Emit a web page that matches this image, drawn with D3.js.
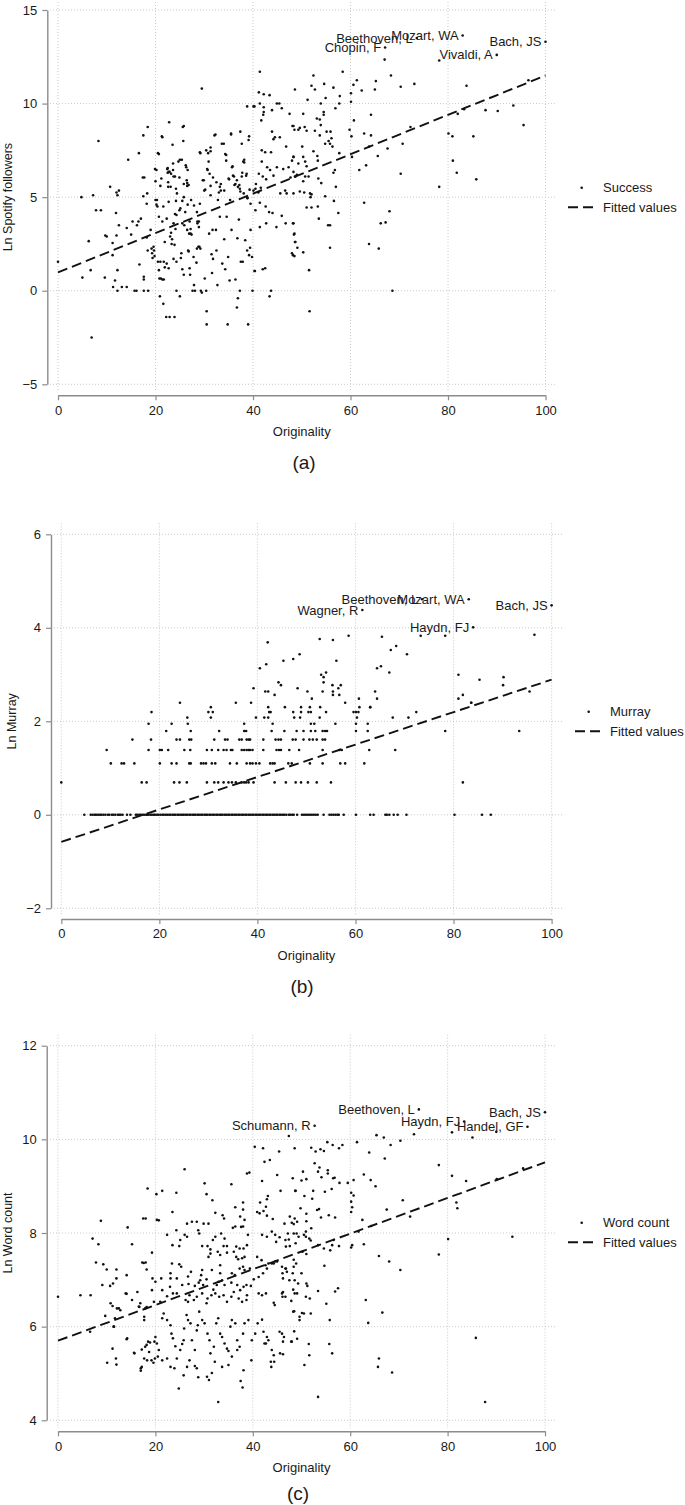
<!DOCTYPE html>
<html><head><meta charset="utf-8">
<script src="https://cdn.jsdelivr.net/npm/d3@7"></script>
<style>html,body{margin:0;padding:0;background:#fff;}svg{display:block;}</style>
</head><body>
<svg id="chart" width="685" height="1505"></svg>
<script>
// ---------------- DATA ----------------
const xTicks = [0, 20, 40, 60, 80, 100];
const successYTicks = [-5, 0, 5, 10, 15];
const murrayYTicks = [-2, 0, 2, 4, 6];
const wordYTicks = [4, 6, 8, 10, 12];

// (a) Ln Spotify followers vs originality
const successPts = [
[0,1.55],[4.8,5.0],[5.0,0.7],[6.9,-2.5],[6.3,2.65],[6.7,1.1],[7.2,5.1],[7.8,4.3],[8.3,8.0],[8.8,4.3],[9.7,2.95],[10.0,2.9],[9.6,0.7],[10.7,5.55],[11.2,2.55],[11.2,1.9],[11.3,0.2],[11.7,0.55],[11.9,4.15],[12.0,5.25],[12.2,5.1],[12.0,2.95],[12.2,1.1],[12.5,5.35],[12.5,3.5],[12.2,0],[13.1,0.2],[14.1,0.2],[14.1,3.35],[14.4,7.0],[15.0,3.0],[15.3,3.7],[15.7,0],[16.1,0],[16.2,3.5],[16.5,3.7],[16.6,7.35],[16.7,1.4],[17.0,3.85],[17.5,8.3],[17.4,6.05],[17.7,6.05],[17.6,0.75],[17.6,0.6],[17.6,0],[18.2,4.65],[18.3,5.2],[18.4,8.75],[18.2,2.85],[18.4,2.15],[18.5,0],[19.0,3.25],[19.2,2.25],[19.4,1.75],[19.6,2.35],[19.8,1.85],[19.9,6.5],[20.0,5.85],[20.0,4.85],[20.2,4.6],[20.4,4.5],[20.5,7.35],[20.5,1.55],[20.7,1.1],[20.8,0.65],[20.9,-0.3],[21.3,8.25],[21.4,0.6],[21.6,-0.7],[21.7,1.55],[21.9,1.25],[21.9,2.6],[22.2,-1.4],[22.3,3.85],[22.5,6.55],[22.5,6.3],[22.6,5.55],[22.8,9.0],[22.9,6.35],[22.9,-1.4],[23.2,3.1],[23.4,2.75],[23.5,7.8],[23.6,6.8],[23.7,1.7],[23.9,-1.4],[24.0,6.1],[24.1,3.3],[24.2,4.8],[24.3,0],[24.7,6.9],[24.9,4.3],[25.0,-0.3],[25.4,7.0],[25.2,1.75],[25.5,4.8],[25.6,8.75],[25.7,8.0],[25.8,5.7],[25.9,3.5],[26.2,6.7],[26.4,5.9],[26.5,5.6],[26.7,2.15],[26.9,3.05],[27.1,0.85],[27.2,3.3],[27.4,3.0],[27.6,0],[27.9,0.3],[28.1,0],[28.4,1.5],[28.5,2.25],[28.6,3.7],[28.9,3.7],[29.0,2.35],[29.1,4.65],[29.1,7.4],[29.5,10.8],[29.3,0],[29.5,-0.1],[29.7,5.9],[30.0,5.35],[30.1,0.65],[30.4,0],[30.5,-1.1],[30.5,-1.8],[30.6,6.5],[30.8,7.35],[31.0,3.05],[31.3,7.45],[31.3,5.1],[31.5,1.95],[31.6,0.95],[31.7,3.25],[31.8,1.7],[32.1,8.3],[32.4,3.25],[32.5,2.15],[32.7,0.3],[32.8,4.85],[33.0,5.25],[33.2,3.95],[33.4,5.7],[33.6,7.85],[33.7,1.45],[34.1,2.75],[34.1,5.35],[34.3,7.3],[34.3,1.15],[34.6,3.95],[34.8,-1.8],[34.9,1.8],[35.1,5.95],[35.2,0.55],[35.3,4.85],[35.5,8.4],[35.6,3.25],[35.8,6.65],[36.1,6.1],[36.2,5.65],[36.4,0.6],[36.7,-0.9],[36.8,2.8],[36.9,-0.4],[37.1,3.8],[37.2,5.65],[37.3,0],[37.5,1.55],[37.7,7.85],[37.8,6.3],[37.9,1.55],[38.2,6.85],[38.4,2.7],[38.7,6.25],[38.9,4.95],[39.0,-1.8],[39.2,8.25],[39.4,2.3],[39.9,0],[40.1,9.85],[40.3,1.05],[40.5,5.45],
[29.2,7.35],[30.4,7.5],[30.9,6.9],[31.3,7.65],[32.3,8.35],[30.7,6.45],[31.1,6.25],[31.8,6.05],[29.9,5.9],[30.2,5.4],[31.3,5.6],[32.5,5.8],[33.2,5.55],[33.4,5.35],[34.0,7.85],[34.5,7.25],[34.5,6.95],[35.0,6.0],[35.5,8.35],[35.7,6.6],[35.9,6.15],[36.4,5.7],[36.7,5.9],[36.9,5.55],[37.3,5.45],[37.4,8.5],[38.0,6.9],[38.2,7.0],[38.6,6.15],[38.8,9.85],[37.7,6.1],[37.4,5.3],[38.1,5.2],[39.1,8.05],[39.3,5.4],[38.8,4.95],[40.3,9.85],[41.2,10.6],[41.4,11.7],[42.2,10.5],[43.4,10.45],[41.4,10.0],[42.2,9.8],[42.2,9.55],[41.7,9.1],[42.1,9.4],[43.9,9.65],[44.9,10.0],[45.4,10.0],[45.9,9.75],[43.9,8.5],[44.2,8.1],[44.5,8.2],[45.5,8.2],[47.5,9.45],[48.1,8.8],[48.5,8.6],[41.8,7.5],[42.5,7.4],[43.7,7.4],[42.9,6.6],[43.5,6.45],[44.2,6.15],[44.9,6.6],[46.2,6.5],[46.8,7.7],[47.3,6.6],[48.0,6.95],[48.3,7.15],[49.3,8.6],[41.8,6.9],[41.2,6.25],[42.0,6.1],[42.7,5.95],[40.1,5.35],[40.6,5.7],[41.6,5.5],[41.1,5.25],[45.6,5.2],[46.6,5.35],[46.9,5.2],[48.7,6.1],[49.0,6.2],[47.7,6.05],[39.5,4.65],[40.5,4.3],[41.4,4.7],[42.6,4.5],[43.3,4.2],[44.0,4.15],[45.9,4.0],[48.3,5.2],[39.5,3.25],[41.4,3.4],[42.7,3.6],[44.8,3.4],[46.7,3.6],[48.2,3.6],[48.5,3.05],[48.7,2.6],[48.0,2.0],[48.5,1.85],[42.0,1.15],[42.5,1.2],[40.4,1.05],[43.7,0],[43.4,-0.3],[38.8,2.15],[39.2,1.9],[39.8,1.8],
[20.7,7.3],[21.4,8.2],[20.2,6.45],[21.2,6.0],[22.4,6.5],[22.7,6.35],[23.2,6.25],[23.6,6.45],[23.7,6.1],[24.9,6.05],[25.0,7.0],[25.8,8.8],[26.3,6.6],[26.6,6.45],[26.5,5.75],[26.8,5.65],[21.0,5.6],[22.6,5.8],[23.1,5.55],[24.2,5.45],[24.4,5.2],[25.8,5.0],[20.3,4.85],[21.6,4.5],[22.7,4.75],[24.0,4.1],[24.3,4.05],[25.1,4.4],[26.1,4.2],[26.6,4.6],[27.3,4.85],[27.9,4.55],[28.5,4.2],[20.7,3.95],[21.4,3.7],[23.7,3.6],[25.5,3.6],[27.0,3.7],[28.6,3.6],[28.9,3.4],[26.5,3.25],[27.2,3.05],[23.0,2.9],[23.3,2.5],[23.9,2.45],[25.3,2.0],[26.8,2.1],[27.8,1.8],[28.8,2.35],[29.2,2.25],[21.0,1.55],[22.3,1.45],[22.7,1.2],[24.3,1.55],[25.5,1.15],[25.8,0.85],[27.0,1.2],[21.1,0.65],[21.7,0.6],[19.3,2.0],[19.7,2.15],[17.5,5.05],
[48.6,10.75],[52.4,11.5],[52.7,10.75],[52.0,10.95],[51.2,10.2],[54.6,11.05],[54.9,10.3],[56.5,10.85],[57.8,10.4],[57.7,10.0],[58.4,11.7],[56.9,9.75],[53.9,10.0],[50.3,9.45],[54.5,9.55],[54.5,9.4],[53.1,9.2],[53.7,9.15],[53.9,8.85],[48.3,8.8],[49.6,8.7],[50.6,8.75],[51.0,8.55],[52.7,8.55],[53.7,8.3],[54.8,7.85],[55.1,8.5],[55.5,8.0],[55.9,8.5],[56.1,8.15],[55.8,7.85],[56.3,7.7],[50.1,7.7],[52.4,7.45],[48.3,7.15],[49.3,6.8],[50.3,7.15],[50.7,6.9],[51.0,6.65],[53.2,7.2],[53.3,6.95],[57.7,7.35],[48.3,6.35],[48.6,6.1],[50.7,6.1],[51.4,6.1],[50.3,5.85],[49.6,5.3],[50.5,5.25],[51.7,5.2],[52.0,5.15],[51.8,5.0],[53.4,6.0],[54.0,5.75],[54.8,5.05],[56.5,6.3],[56.8,6.45],[57.0,5.55],[56.6,4.8],[57.5,4.15],[51.0,4.45],[52.0,4.45],[53.3,4.5],[53.5,3.85],[48.3,3.6],[55.4,3.5],[55.8,3.5],[48.4,3.0],[48.6,2.6],[49.1,2.3],[48.2,1.9],[50.3,2.05],[55.8,2.3],[51.5,1.1],[51.6,-1.1],[59.8,8.6],[60.2,8.25],[60.1,10.1],[60.1,10.55],[60.6,11.0],[61.3,11.25],[60.7,9.1],[60.3,7.15],[62.3,10.7],[62.8,8.4],[64.2,9.4],[64.2,8.3],[63.8,7.7],[63.2,6.7],[61.8,6.45],[65.2,11.2],[65.0,10.75],[65.6,7.2],[67.0,12.35],[68.3,11.5],[67.6,7.6],[62.8,4.7],[63.8,2.5],[65.8,2.25],[66.2,3.6],[67.2,3.65],[68.0,4.25],[68.6,0],[70.3,10.9],[70.7,7.85],[70.3,6.25],[72.3,8.75],[73.1,11.05],[78.2,12.3],[78.2,5.55],[80.1,8.4],[80.9,8.25],[81.0,6.95],[81.8,6.3],[82.0,9.45],[83.3,9.7],[83.8,10.95],[85.2,8.25],[85.8,5.95],[87.7,9.65],[90.2,9.6],[93.4,9.9],[95.5,8.85],[96.5,11.25]
];
const successLabelNames = ["Beethoven, L", "Mozart, WA", "Chopin, F", "Vivaldi, A", "Bach, JS"];
const successLabelX = [73.6, 83.0, 67.1, 90.0, 100];
const successLabelY = [13.5, 13.64, 13.0, 12.6, 13.3];
const successFit = [[0, 0.98], [100, 11.5]];

// (b) Ln Murray vs originality: points on discrete levels ln(count)
const murrayRows = [
 [0, [4.7,6.0,6.4,6.8,7.1,7.5,7.9,8.2,8.6,9.0,9.5,9.8,10.3,10.6,11.0,11.5,11.8,12.1,12.5,13.4,14.1,15.2,15.5,15.9,16.2,16.6,16.9,17.3,17.5,17.8,18.2,18.5,18.9,19.1,19.5,19.8,20.2,20.6,20.9,21.3,21.6,22.0,22.3,22.7,23.0,23.3,23.7,24.0,24.4,24.7,25.0,25.4,25.7,26.1,26.4,26.8,27.1,27.4,27.8,28.1,28.5,28.8,29.2,29.5,29.8,30.2,30.5,30.9,31.2,31.6,31.9,32.3,32.6,32.9,33.3,33.6,34.0,34.3,34.7,35.0,35.4,35.7,36.1,36.4,36.8,37.1,37.5,37.8,38.2,38.5,38.9,39.2,39.6,39.9,40.3,40.6,41.0,41.3,41.7,42.0,42.4,42.7,43.1,43.4,43.8,44.1,44.5,44.8,45.2,45.5,45.9,46.4,46.7,47.1,47.4,48.1,49.1,49.5,49.9,50.3,50.7,51.1,51.5,51.9,52.3,53.5,54.7,55.1,55.5,55.9,56.3,56.6,57.6,60.1,63.0,63.7,66.1,66.4,66.9,67.8,68.6,70.4,80.2,85.8,87.6]],
 [0.693, [0,16.4,17.4,23.0,24.1,25.6,29.7,31.2,32.0,33.1,34.1,34.8,35.6,36.8,37.3,37.7,38.2,39.2,43.5,45.8,47.8,48.9,50.3,52.1,55.0,81.9]],
 [1.099, [10.1,12.3,12.8,14.9,20.1,22.5,23.5,26.1,26.4,28.5,29.0,29.5,30.7,31.4,34.4,35.8,37.8,38.5,39.0,39.7,40.4,42.6,43.1,43.5,46.3,47.0,50.7,53.3,56.9,57.9,61.8]],
 [1.386, [9.25,17.8,20.1,20.5,21.8,25.1,26.3,29.7,30.7,32.0,33.1,33.7,34.6,34.9,36.8,37.3,37.8,38.2,38.5,39.0,41.2,43.9,44.4,44.8,46.5,48.5,53.3,56.7,57.2,62.8,68.1]],
 [1.609, [14.5,18.3,23.5,24.2,26.1,26.5,31.2,33.4,33.9,36.3,36.8,37.8,38.2,38.5,41.2,43.7,44.3,44.8,47.2,47.8,49.4,50.6,51.3,52.1,53.3,53.8]],
 [1.792, [21.4,26.4,32.2,37.3,37.7,42.9,45.5,48.0,49.4,50.9,51.8,53.3,53.8,54.2,60.1,62.5,78.3,93.4]],
 [1.946, [17.8,22.5,25.8,37.3,43.1,50.9,51.6,55.9,60.1,62.5]],
 [2.079, [25.7,30.5,39.7,41.4,42.2,47.5,48.7,52.7,60.3,67.6,70.8]],
 [2.197, [18.4,30.0,30.9,42.4,42.7,47.3,48.9,50.4,50.9,54.0,59.6,60.1,60.6,72.4]],
 [2.303, [30.5,42.2,45.6,48.9,50.7,52.8,60.8,63.0]],
 [2.398, [24.2,35.6,38.7,57.9,83.6]]
];
const murrayUpper = [
[39.2,2.708],[40.5,3.135],[41.8,3.219],[42.1,3.689],[41.6,2.639],[42.2,2.639],[43.5,2.565],[44.3,2.833],[44.8,2.773],[45.3,3.296],[47.3,3.332],[48.6,3.434],[48.2,2.708],[50.2,2.639],[51.1,2.485],[52.7,3.761],[53.0,2.996],[53.3,2.639],[53.5,2.944],[54.0,3.045],[53.5,2.833],[55.4,3.738],[55.4,2.639],[55.4,2.565],[56.1,3.296],[56.5,2.708],[57.0,2.773],[56.7,2.565],[55.3,2.773],[58.6,3.829],[60.7,2.485],[63.0,2.303],[64.0,2.639],[64.4,2.485],[64.4,3.135],[65.2,3.178],[65.4,3.807],[66.9,3.045],[67.2,3.526],[68.3,3.611],[70.5,3.434],[73.3,3.829],[78.3,3.829],[81.0,2.996],[81.9,2.565],[81.0,2.485],[83.6,2.398],[85.3,2.89],[90.2,2.944],[90.1,2.773],[95.5,2.639],[96.5,3.85]
];
const murrayLabelNames = ["Wagner, R", "Beethoven, L", "Mozart, WA", "Haydn, FJ", "Bach, JS"];
const murrayLabelX = [61.4, 73.6, 83.1, 84.0, 100];
const murrayLabelY = [4.38, 4.61, 4.61, 4.01, 4.48];
const murrayFit = [[0, -0.58], [100, 2.89]];

// (c) Ln Word count vs originality
const wordPts = [
[0,6.64],[4.6,6.67],[6.7,6.67],[6.6,5.89],[7.1,7.88],[7.8,7.37],[8.3,7.76],[8.8,8.26],[9.3,7.33],[9.7,6.23],[10.0,7.22],[10.1,5.23],[10.7,6.87],[10.8,6.5],[11.2,6.44],[11.2,5.53],[11.4,6.0],[11.7,6.18],[12.0,7.22],[12.0,7.03],[11.9,5.32],[12.0,5.19],[12.5,6.39],[14.1,7.1],[14.1,5.73],[14.3,8.12],[13.9,6.71],[15.2,7.76],[15.6,5.44],[16.3,6.74],[16.7,6.42],[17.0,5.11],[17.0,5.06],[17.3,7.37],[17.5,8.31],[17.7,5.32],[18.0,8.31],[18.0,7.37],[17.7,6.21],[17.7,6.14],[18.2,5.61],[18.4,8.95],[18.5,5.68],[18.3,5.28],[18.7,5.46],[18.2,7.22],[18.2,6.42],[19.2,5.28],[19.3,7.58],[19.4,7.03],[19.6,5.23],[19.9,5.32],[19.8,5.68],[32.9,4.39],[37.5,4.84],[37.9,4.7],
[26.0,9.36],[20.2,8.83],[21.4,8.9],[24.3,8.86],[30.1,9.06],[30.5,8.83],[31.7,8.7],[35.6,9.04],[38.8,9.27],[39.3,9.29],[40.4,9.84],[42.1,9.81],[42.4,9.52],[43.5,9.56],[45.4,9.74],[48.6,9.81],[47.4,10.07],[45.0,9.24],[41.9,9.11],[48.2,9.17],[45.7,8.9],[48.7,8.9],[43.1,8.79],[42.9,8.72],[41.5,8.65],[42.7,8.56],[38.0,8.65],[38.0,8.5],[36.4,8.55],[37.4,8.35],[38.3,8.28],[33.8,8.38],[34.1,8.31],[32.3,8.43],[23.5,8.45],[20.3,8.28],[20.7,8.27],[26.5,8.2],[27.5,8.24],[28.5,8.24],[29.9,8.2],[30.9,8.2],[35.9,8.11],[36.4,8.14],[37.6,8.13],[38.0,8.14],[40.9,8.45],[41.4,8.42],[42.2,8.47],[42.9,8.37],[44.1,8.3],[46.5,8.2],[47.6,8.35],[48.6,8.31],[49.1,8.24],[24.3,8.06],[26.0,7.96],[26.5,7.92],[28.8,8.06],[29.0,7.99],[32.3,7.92],[33.5,7.99],[34.2,7.88],[39.0,7.96],[41.9,7.96],[42.9,7.92],[43.9,8.03],[44.6,7.96],[45.5,7.91],[46.7,7.85],[47.4,7.86],[48.4,7.99],[22.4,7.96],[23.5,7.74],[25.1,7.85],[24.9,7.72],[29.6,7.72],[30.7,7.72],[31.8,7.85],[34.0,7.72],[34.7,7.72],[36.1,7.6],[36.6,7.71],[37.3,7.67],[38.1,7.67],[38.8,7.74],[44.8,7.81],[47.6,7.72],[31.3,7.65],[31.3,7.56],[30.9,7.49],[32.8,7.6],[33.3,7.53],[34.7,7.58],[36.6,7.49],[37.0,7.44],[37.8,7.46],[38.3,7.49],[40.9,7.49],[41.8,7.42],[42.6,7.31],[43.2,7.35],[43.9,7.35],[44.6,7.39],[46.7,7.24],[47.0,7.17],[48.2,7.14],[48.9,7.35],[17.6,7.36],[23.4,7.35],[25.3,7.28],[24.9,7.33],[23.1,7.14],[26.7,7.07],[27.3,7.17],[29.4,7.1],[29.6,7.21],[31.6,7.21],[33.3,7.31],[33.3,7.14],[35.7,7.14],[36.3,7.1],[37.3,7.24],[38.0,7.28],[38.3,7.21],[39.4,7.24],[20.0,6.96],[21.2,7.03],[23.1,7.03],[24.4,7.03],[11.3,6.92],[9.1,6.89],[14.1,6.7],[19.3,6.78],[21.4,6.78],[23.0,6.85],[25.5,6.89],[26.8,6.91],[28.1,6.87],[28.9,6.94],[29.2,6.99],[29.8,6.89],[30.5,7.01],[31.9,6.79],[32.6,6.89],[33.0,6.96],[33.7,6.99],[34.2,6.89],[35.6,6.94],[36.8,6.89],[37.4,6.78],[38.1,6.85],[38.7,6.89],[39.6,6.87],[40.2,7.01],[41.2,7.06],[42.1,7.14],[42.9,7.24],[44.3,7.35],[45.0,7.39],[46.0,7.28],[41.2,6.71],[41.9,6.67],[42.7,6.71],[44.3,6.51],[44.5,6.46],[46.0,6.71],[46.7,6.64],[48.6,6.71],[49.1,6.71],[48.3,6.32],[38.8,6.67],[38.7,6.57],[37.8,6.53],[37.1,6.6],[36.1,6.74],[35.6,6.64],[34.7,6.53],[34.0,6.67],[33.1,6.64],[32.3,6.71],[31.5,6.67],[30.7,6.6],[30.5,6.5],[29.6,6.71],[28.5,6.64],[27.9,6.57],[27.0,6.67],[26.7,6.53],[26.2,6.57],[24.4,6.71],[23.6,6.71],[22.4,6.65],[21.0,6.53],[19.7,6.53],[16.9,6.5],[17.9,6.39],[16.6,6.43],[12.1,6.39],[12.8,6.35],[15.2,6.57],[11.5,6.0],[14.2,5.75],[15.7,5.43],[17.2,5.51],[17.9,5.57],[18.9,5.66],[20.0,5.78],[20.3,5.64],[20.7,5.5],[21.4,6.18],[21.7,6.28],[22.4,6.14],[23.1,6.03],[23.3,5.85],[23.6,5.75],[24.1,5.58],[24.4,5.32],[25.1,5.5],[25.5,5.63],[25.8,5.71],[25.9,5.96],[26.4,6.25],[26.7,6.14],[27.2,6.07],[27.5,5.71],[28.1,5.5],[28.5,5.92],[28.7,6.03],[29.0,6.32],[29.6,6.14],[30.1,6.07],[30.7,5.85],[31.1,5.71],[31.3,5.43],[32.0,5.57],[32.5,6.07],[32.9,6.18],[33.3,5.85],[33.7,5.78],[34.2,5.64],[34.7,5.53],[35.0,5.48],[35.4,6.0],[35.7,6.14],[36.4,6.07],[36.8,5.71],[37.3,5.57],[38.0,5.85],[38.3,6.07],[39.1,6.14],[39.8,5.71],[40.5,5.85],[41.0,6.07],[41.9,6.15],[42.2,5.89],[42.9,5.78],[43.2,5.71],[43.9,5.5],[44.3,5.39],[43.7,5.25],[46.0,5.85],[46.2,5.68],[48.0,5.68],[45.6,5.43],[42.7,5.64],[36.8,5.5],[35.7,5.36],[35.0,5.18],[33.7,5.14],[32.2,5.25],[30.6,4.93],[31.0,4.86],[31.6,5.01],[28.8,4.92],[28.1,5.16],[27.0,5.28],[26.5,5.14],[25.8,4.96],[24.8,4.68],[23.9,5.11],[23.1,5.14],[22.4,5.32],[21.4,5.28],[20.5,5.36],[17.2,5.14],[38.1,5.07],[28.5,5.11],[39.7,5.28],[43.8,5.14],[42.4,5.64],[44.4,5.25],[49.1,5.74],[49.6,6.14],[49.4,7.92],
[52.0,9.82],[52.9,9.74],[53.9,9.79],[54.6,9.75],[55.3,9.94],[56.4,9.88],[57.7,9.81],[58.4,9.88],[61.4,9.94],[63.9,9.72],[65.4,10.09],[66.9,10.04],[68.3,9.88],[70.3,9.97],[67.1,9.59],[52.7,9.49],[53.7,9.4],[53.4,9.31],[55.4,9.34],[55.4,9.27],[50.3,9.31],[50.0,9.12],[51.0,9.15],[54.1,9.19],[56.5,9.17],[56.8,9.18],[57.8,9.07],[59.5,9.07],[60.7,9.13],[62.8,9.25],[64.2,9.13],[65.2,9.0],[48.8,8.9],[52.4,8.9],[54.8,8.88],[56.2,8.94],[50.6,8.79],[52.2,8.73],[60.2,8.86],[60.7,8.8],[60.2,8.67],[60.4,8.55],[60.2,8.45],[49.8,8.53],[53.2,8.49],[53.6,8.51],[51.0,8.41],[51.0,8.25],[48.0,8.22],[48.4,8.19],[54.0,8.33],[55.6,8.38],[56.9,8.33],[62.5,8.28],[67.5,8.5],[70.8,8.7],[47.2,7.99],[49.0,7.99],[50.9,8.03],[52.0,8.1],[50.5,7.96],[50.9,7.92],[46.8,7.71],[48.8,7.78],[50.2,7.6],[51.6,7.88],[53.4,7.74],[54.6,7.67],[56.3,7.74],[57.7,7.72],[56.6,7.85],[60.4,7.74],[60.2,7.69],[62.8,7.76],[65.9,7.51],[68.0,7.39],[70.3,7.21],[51.9,7.84],[48.4,7.43],[48.4,7.28],[46.8,7.24],[46.1,7.14],[46.2,7.03],[47.5,6.99],[48.6,6.99],[49.3,6.92],[50.0,7.14],[51.0,7.55],[54.7,7.3],[55.9,7.63],[51.2,6.87],[51.0,6.92],[50.9,6.64],[51.7,6.6],[48.3,6.79],[46.1,6.64],[53.4,6.76],[56.9,6.75],[57.5,6.82],[46.2,6.74],[55.1,6.49],[55.8,6.14],[50.5,6.28],[49.6,6.21],[50.1,6.29],[51.9,6.28],[48.5,6.33],[47.9,6.55],[45.5,5.89],[46.4,5.78],[47.9,5.68],[51.5,5.63],[55.7,5.63],[56.3,5.43],[63.2,6.57],[66.6,6.3],[63.7,6.08],[65.9,5.32],[65.7,5.14],[46.2,5.41],[50.6,5.18],[53.4,4.5],[51.6,5.39],[48.5,5.9],
[73.1,10.11],[72.3,8.35],[64.3,8.15],[61.7,8.03],[78.2,9.45],[80.9,9.22],[83.8,9.11],[81.8,8.65],[82.0,8.53],[80.1,7.87],[78.2,7.54],[68.6,5.02],[85.8,5.76],[87.7,4.39],[90.1,9.15],[93.3,7.92],[95.5,9.38],[80.9,10.15],[85.1,10.04],[90.0,10.16]
];
const wordLabelNames = ["Schumann, R", "Beethoven, L", "Haydn, FJ", "Handel, GF", "Bach, JS"];
const wordLabelX = [52.7, 74.1, 83.4, 96.4, 100];
const wordLabelY = [10.29, 10.64, 10.38, 10.27, 10.58];
const wordFit = [[0, 5.70], [100, 9.51]];

// ---------------- DRAWING ----------------
const FONT = "'Liberation Sans', Arial, Helvetica, sans-serif";
const TXT = "#1a1a1a", AXC = "#8c8c8c", GRID = "#c4c4c4";
const DOT_R = 1.3;
const svg = d3.select("#chart");
svg.append("rect").attr("width", 685).attr("height", 1505).attr("fill", "#fff");

const murrayPts = murrayRows.flatMap(([lv, xs]) => xs.map(v => [v, lv])).concat(murrayUpper);
const zipLabels = (n, xs, ys) => n.map((t, i) => ({ name: t, x: xs[i], y: ys[i] }));

const panels = [
  { pts: successPts, labels: zipLabels(successLabelNames, successLabelX, successLabelY), fit: successFit,
    yTicks: successYTicks, yTitle: "Ln Spotify followers", legendName: "Success", tag: "(a)",
    L: { x0: 58, x1: 545.5, yTop: 10, yBot: 384.3, axisX: 47.3, axisY: 395.3, gridL: 50, gridR: 555,
         ytx: 8, tagX: 304, tagY: 462, legX: 568, legY: 187.7 } },
  { pts: murrayPts, labels: zipLabels(murrayLabelNames, murrayLabelX, murrayLabelY), fit: murrayFit,
    yTicks: murrayYTicks, yTitle: "Ln Murray", legendName: "Murray", tag: "(b)",
    L: { x0: 61.3, x1: 551.6, yTop: 534.3, yBot: 908.3, axisX: 51, axisY: 919, gridL: 54, gridR: 562,
         ytx: 12, tagX: 302, tagY: 986, legX: 575, legY: 711.7 } },
  { pts: wordPts, labels: zipLabels(wordLabelNames, wordLabelX, wordLabelY), fit: wordFit,
    yTicks: wordYTicks, yTitle: "Ln Word count", legendName: "Word count", tag: "(c)",
    L: { x0: 58, x1: 545, yTop: 1045.7, yBot: 1420.3, axisX: 46.7, axisY: 1431.3, gridL: 50, gridR: 555,
         ytx: 8, tagX: 298, tagY: 1493, legX: 568, legY: 1222.7 } }
];

const fmt = d => d < 0 ? "\u2212" + Math.abs(d) : String(d);

panels.forEach(p => {
  const L = p.L;
  const x = d3.scaleLinear().domain([0, 100]).range([L.x0, L.x1]);
  const y = d3.scaleLinear().domain(d3.extent(p.yTicks)).range([L.yBot, L.yTop]);
  const g = svg.append("g");

  // gridlines
  g.append("g").selectAll("line").data(p.yTicks).join("line")
    .attr("x1", L.gridL).attr("x2", L.gridR).attr("y1", d => y(d)).attr("y2", d => y(d))
    .attr("stroke", GRID).attr("stroke-width", 0.9).attr("stroke-dasharray", "1,2");
  g.append("g").selectAll("line").data(xTicks).join("line")
    .attr("x1", d => x(d)).attr("x2", d => x(d)).attr("y1", L.yTop - 11).attr("y2", L.yBot + 8)
    .attr("stroke", GRID).attr("stroke-width", 0.9).attr("stroke-dasharray", "1,2");

  // axes
  const ya = g.append("g").attr("transform", `translate(${L.axisX},0)`)
    .call(d3.axisLeft(y).tickValues(p.yTicks).tickSize(5).tickSizeOuter(0).tickPadding(5).tickFormat(fmt));
  const xa = g.append("g").attr("transform", `translate(0,${L.axisY})`)
    .call(d3.axisBottom(x).tickValues(xTicks).tickSize(5).tickSizeOuter(0).tickPadding(5).tickFormat(fmt));
  [ya, xa].forEach(a => {
    a.select(".domain").attr("stroke", AXC).attr("stroke-width", 1.4);
    a.selectAll(".tick line").attr("stroke", AXC).attr("stroke-width", 1.2);
    a.selectAll(".tick text").attr("fill", TXT).style("font-family", FONT).style("font-size", "13px");
  });

  // axis titles
  g.append("text").attr("x", (L.x0 + L.x1) / 2).attr("y", L.axisY + 36)
    .attr("text-anchor", "middle").attr("dominant-baseline", "central")
    .style("font-family", FONT).style("font-size", "13px").attr("fill", TXT).text("Originality");
  g.append("text").attr("transform", `translate(${L.ytx},${(L.yTop + L.yBot) / 2}) rotate(-90)`)
    .attr("text-anchor", "middle").attr("dominant-baseline", "central")
    .style("font-family", FONT).style("font-size", "12.5px").attr("fill", TXT).text(p.yTitle);
  g.append("text").attr("x", L.tagX).attr("y", L.tagY)
    .attr("text-anchor", "middle").attr("dominant-baseline", "central")
    .style("font-family", FONT).style("font-size", "19px").attr("fill", TXT).text(p.tag);

  // fitted line
  g.append("path").datum(p.fit)
    .attr("d", d3.line().x(d => x(d[0])).y(d => y(d[1])))
    .attr("fill", "none").attr("stroke", "#111").attr("stroke-width", 1.9).attr("stroke-dasharray", "10,5");

  // points
  g.append("g").selectAll("circle").data(p.pts).join("circle")
    .attr("cx", d => x(d[0])).attr("cy", d => y(d[1])).attr("r", DOT_R).attr("fill", "#111");

  // labelled composers
  const lg = g.append("g").selectAll("g").data(p.labels).join("g");
  lg.append("circle").attr("cx", d => x(d.x)).attr("cy", d => y(d.y)).attr("r", DOT_R).attr("fill", "#111");
  lg.append("text").attr("x", d => x(d.x) - 4).attr("y", d => y(d.y))
    .attr("text-anchor", "end").attr("dominant-baseline", "central")
    .style("font-family", FONT).style("font-size", "13px").attr("fill", TXT).text(d => d.name);

  // legend
  const leg = g.append("g");
  leg.append("circle").attr("cx", L.legX + 13.7).attr("cy", L.legY).attr("r", DOT_R).attr("fill", "#111");
  leg.append("text").attr("x", L.legX + 35).attr("y", L.legY).attr("dominant-baseline", "central")
    .style("font-family", FONT).style("font-size", "13px").attr("fill", TXT).text(p.legendName);
  leg.append("line").attr("x1", L.legX).attr("x2", L.legX + 25).attr("y1", L.legY + 19.6).attr("y2", L.legY + 19.6)
    .attr("stroke", "#111").attr("stroke-width", 1.9).attr("stroke-dasharray", "10,5");
  leg.append("text").attr("x", L.legX + 35).attr("y", L.legY + 19.6).attr("dominant-baseline", "central")
    .style("font-family", FONT).style("font-size", "13px").attr("fill", TXT).text("Fitted values");
});
</script>
</body></html>
